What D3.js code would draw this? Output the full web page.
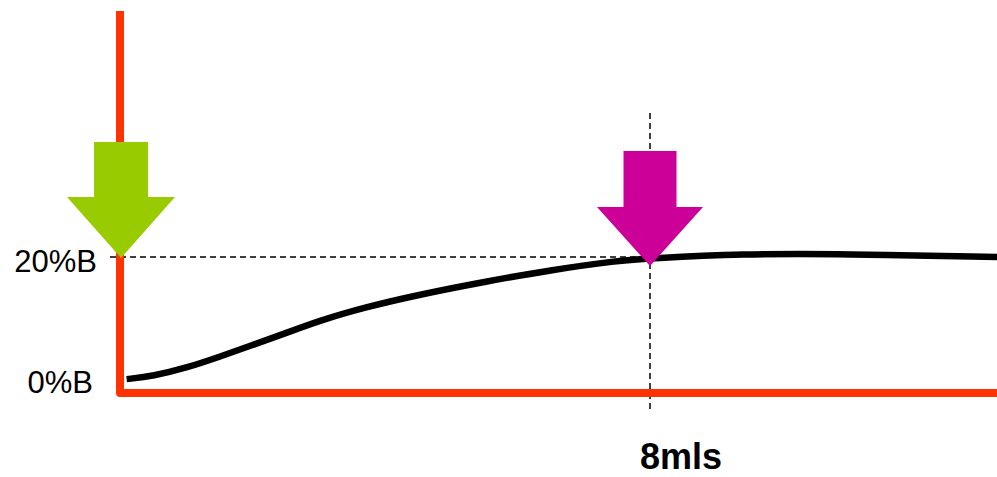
<!DOCTYPE html>
<html>
<head>
<meta charset="utf-8">
<script src="https://cdn.jsdelivr.net/npm/d3@7"></script>
<style>
  body { margin: 0; background: #fff; }
  svg { display: block; font-family: Arial, "Liberation Sans", sans-serif; }
</style>
</head>
<body>
<div id="chart"></div>
<script>
// Data: gradient profile, volume (mL) vs %B
const volume = [0.1, 0.5, 1, 1.5, 2, 2.5, 3, 3.7, 4.5, 5.5, 6.5, 7.5, 8, 9.4, 10.9, 13.24];
const percentB = [0.3, 0.8, 2.1, 3.9, 5.8, 7.7, 9.7, 11.9, 13.9, 16.0, 17.9, 19.4, 19.8, 20.5, 20.5, 20.0];

const yTicks = [0, 20];
const yTickLabels = ["0%B", "20%B"];
const markVolume = 8;
const markLabel = "8mls";
const markLevel = 20;

const width = 997, height = 477;

const svg = d3.select("#chart").append("svg")
  .attr("width", width)
  .attr("height", height);

const x = d3.scaleLinear().domain([0, 8]).range([120, 650]);
const y = d3.scaleLinear().domain([0, 20]).range([381, 257]);

const axisColor = "#FF3300";
const axisBottom = 393;
const axisTop = 11;

// dashed guides
svg.append("line")
  .attr("x1", 110).attr("x2", x(markVolume))
  .attr("y1", y(markLevel)).attr("y2", y(markLevel))
  .attr("stroke", "#000").attr("stroke-width", 1.5)
  .attr("stroke-dasharray", "6,4");

svg.append("line")
  .attr("x1", x(markVolume)).attr("x2", x(markVolume))
  .attr("y1", 113).attr("y2", 410)
  .attr("stroke", "#000").attr("stroke-width", 1.5)
  .attr("stroke-dasharray", "6,4");

// axes
svg.append("path")
  .attr("d", `M${x(0)},${axisTop} L${x(0)},${axisBottom} L${width + 10},${axisBottom}`)
  .attr("fill", "none")
  .attr("stroke", axisColor)
  .attr("stroke-width", 8)
  .attr("stroke-linejoin", "round");

// curve
const line = d3.line()
  .x((d, i) => x(volume[i]))
  .y((d) => y(d))
  .curve(d3.curveBasis);

svg.append("path")
  .attr("d", line(percentB))
  .attr("fill", "none")
  .attr("stroke", "#000")
  .attr("stroke-width", 6.5)
  .attr("stroke-linecap", "butt");

// tick labels
svg.selectAll(".ytick")
  .data(yTicks)
  .join("text")
  .attr("class", "ytick")
  .attr("x", (d) => d === 0 ? 93 : 97)
  .attr("y", (d) => y(d) + (d === 0 ? 12 : 15))
  .attr("text-anchor", "end")
  .attr("font-size", 31)
  .attr("fill", "#000")
  .text((d, i) => yTickLabels[i]);

svg.append("text")
  .attr("x", x(markVolume) + 31)
  .attr("y", 469)
  .attr("text-anchor", "middle")
  .attr("font-size", 36)
  .attr("font-weight", "bold")
  .attr("fill", "#000")
  .text(markLabel);

// arrows
function arrow(cx, tipY, top, headY, shaftW, headW, color) {
  const pts = [
    [cx - shaftW / 2, top], [cx + shaftW / 2, top],
    [cx + shaftW / 2, headY], [cx + headW / 2, headY],
    [cx, tipY], [cx - headW / 2, headY],
    [cx - shaftW / 2, headY]
  ];
  svg.append("polygon")
    .attr("points", pts.map((p) => p.join(",")).join(" "))
    .attr("fill", color);
}

arrow(x(0) + 1, y(markLevel) + 1, 142, 197, 54, 108, "#99CC00");
arrow(x(markVolume), y(markLevel) + 9, 151, 207, 53, 106, "#CC0099");
</script>
</body>
</html>
